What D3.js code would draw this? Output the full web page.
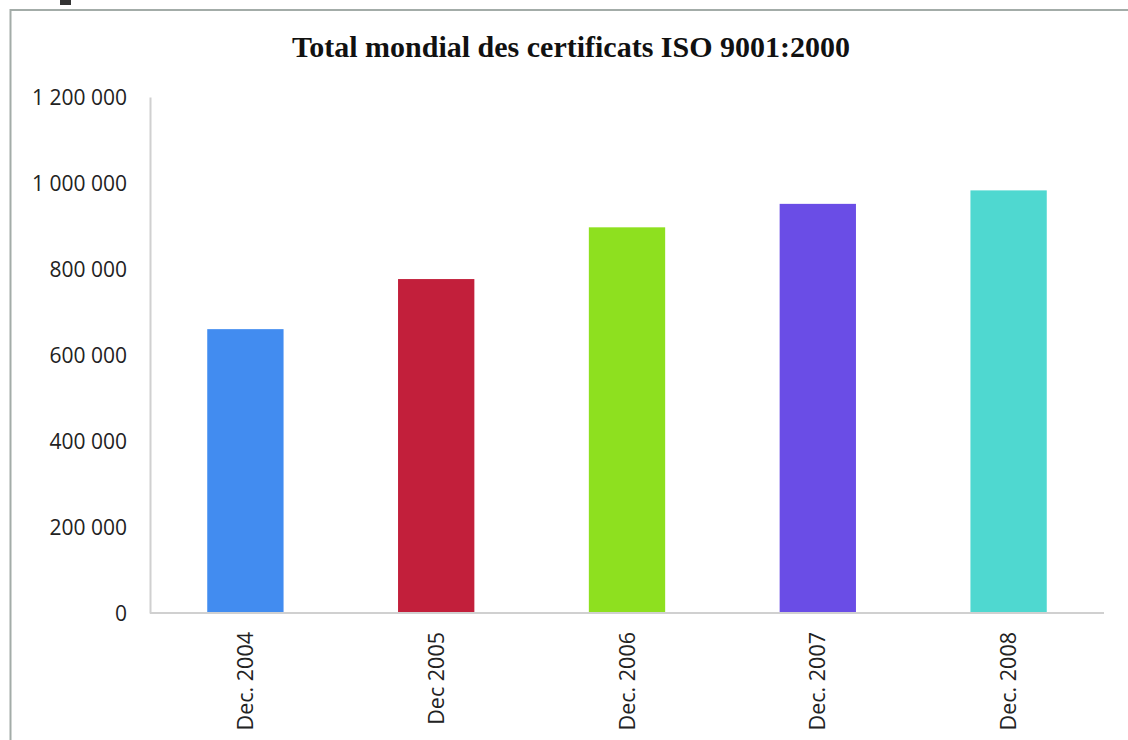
<!DOCTYPE html>
<html>
<head>
<meta charset="utf-8">
<script src="https://cdn.jsdelivr.net/npm/d3@7"></script>
<style>
  html, body { margin: 0; padding: 0; background: #fff; }
  svg { display: block; }
</style>
</head>
<body>
<svg id="chart" width="1128" height="740"></svg>
<script>
// ISO 9001:2000 certificates worldwide, year-end totals
const categories = ["Dec. 2004", "Dec 2005", "Dec. 2006", "Dec. 2007", "Dec. 2008"];
const certificates = [660132, 776608, 896929, 951486, 982832];
const barColors = ["#428cf0", "#c21f3b", "#8ee01f", "#6a4de6", "#4fd8d0"];
const yTicks = [0, 200000, 400000, 600000, 800000, 1000000, 1200000];
const title = "Total mondial des certificats ISO 9001:2000";

const svg = d3.select("#chart");
const W = 1128, H = 740;
const plot = { left: 150, right: 1104, top: 97, bottom: 613 };

// outer frame (top and left edges visible)
svg.append("path")
  .attr("d", `M${W},10 H10.5 V${H}`)
  .attr("fill", "none")
  .attr("stroke", "#a3aca8")
  .attr("stroke-width", 2);

// small dark mark above the frame
svg.append("rect")
  .attr("x", 60).attr("y", 0).attr("width", 11).attr("height", 5)
  .attr("fill", "#333");

const x = d3.scaleBand()
  .domain(categories)
  .range([plot.left, plot.right])
  .paddingInner(0.6)
  .paddingOuter(0.3);

const y = d3.scaleLinear()
  .domain([0, 1200000])
  .range([plot.bottom, plot.top]);

// format numbers with space as thousands separator
const fmt = d3.formatLocale({ decimal: ",", thousands: "\u00a0", grouping: [3], currency: ["", ""] }).format(",d");

// title
svg.append("text")
  .attr("x", 571)
  .attr("y", 57)
  .attr("text-anchor", "middle")
  .attr("font-family", "'Liberation Serif', 'Times New Roman', serif")
  .attr("font-weight", "bold")
  .attr("font-size", 30)
  .attr("fill", "#111")
  .text(title);

// y axis
const yAxis = svg.append("g")
  .attr("transform", `translate(${plot.left},0)`)
  .call(d3.axisLeft(y).tickValues(yTicks).tickFormat(fmt).tickSize(0).tickPadding(23));
yAxis.select(".domain").attr("stroke", "#d0d0d0").attr("stroke-width", 2);
yAxis.selectAll("text")
  .attr("font-family", "'Open Sans', 'Liberation Sans', sans-serif")
  .attr("font-size", 21)
  .attr("fill", "#222")
  .attr("dy", "0.38em");

// bars
svg.append("g")
  .selectAll("rect")
  .data(certificates)
  .join("rect")
  .attr("x", (d, i) => x(categories[i]))
  .attr("width", x.bandwidth())
  .attr("y", d => y(d))
  .attr("height", d => y(0) - y(d))
  .attr("fill", (d, i) => barColors[i]);

// x axis
const xAxis = svg.append("g")
  .attr("transform", `translate(0,${plot.bottom})`)
  .call(d3.axisBottom(x).tickSize(0).tickPadding(0));
xAxis.select(".domain")
  .attr("d", `M${plot.left},0H${plot.right}`)
  .attr("stroke", "#d0d0d0").attr("stroke-width", 2);
xAxis.selectAll("text")
  .attr("font-family", "'Open Sans', 'Liberation Sans', sans-serif")
  .attr("font-size", 21.5)
  .attr("fill", "#222")
  .attr("text-anchor", "end")
  .attr("transform", "translate(0,19) rotate(-90)")
  .attr("x", 0)
  .attr("y", 0)
  .attr("dy", "0.35em");
</script>
</body>
</html>
